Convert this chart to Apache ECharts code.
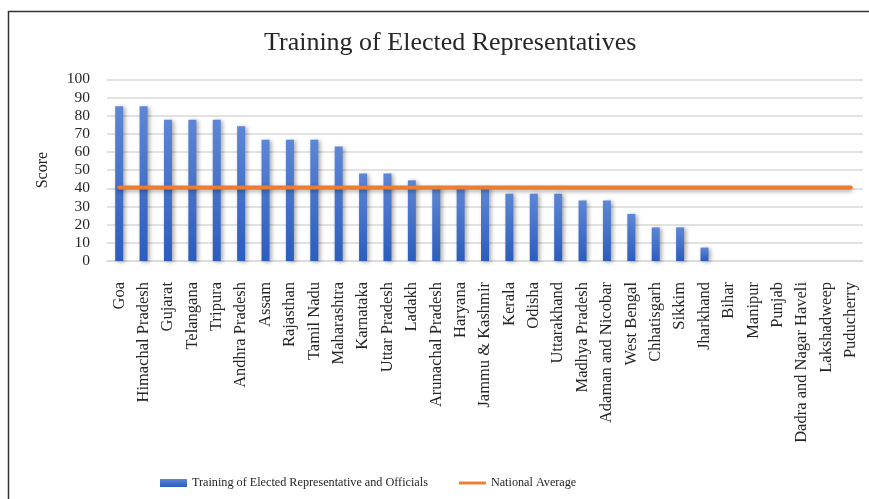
<!DOCTYPE html>
<html>
<head>
<meta charset="utf-8">
<script src="https://cdn.jsdelivr.net/npm/echarts@6/dist/echarts.min.js"></script>
<style>
  html, body { margin: 0; padding: 0; background: #fff; }
  #chart { width: 869px; height: 499px; }
</style>
</head>
<body>
<div id="chart"></div>
<script>
const states = ["Goa","Himachal Pradesh","Gujarat","Telangana","Tripura","Andhra Pradesh","Assam","Rajasthan","Tamil Nadu","Maharashtra","Karnataka","Uttar Pradesh","Ladakh","Arunachal Pradesh","Haryana","Jammu & Kashmir","Kerala","Odisha","Uttarakhand","Madhya Pradesh","Adaman and Nicobar","West Bengal","Chhatisgarh","Sikkim","Jharkhand","Bihar","Manipur","Punjab","Dadra and Nagar Haveli","Lakshadweep","Puducherry"];
const trainingScores = [85.2,85.2,77.8,77.8,77.8,74.1,66.7,66.7,66.7,63.0,48.1,48.1,44.4,40.7,40.7,40.7,37.0,37.0,37.0,33.3,33.3,25.9,18.5,18.5,7.4,0,0,0,0,0,0];
const nationalAverage = [40.4,40.4,40.4,40.4,40.4,40.4,40.4,40.4,40.4,40.4,40.4,40.4,40.4,40.4,40.4,40.4,40.4,40.4,40.4,40.4,40.4,40.4,40.4,40.4,40.4,40.4,40.4,40.4,40.4,40.4,40.4];
const yTicks = [0,10,20,30,40,50,60,70,80,90,100];

const serif = "'Liberation Serif', 'Times New Roman', serif";
const chart = echarts.init(document.getElementById('chart'), null, {renderer: 'canvas'});
chart.setOption({
  animation: false,
  backgroundColor: '#ffffff',
  textStyle: { fontFamily: serif, color: '#262626' },
  title: {
    text: 'Training of Elected Representatives',
    left: 259,
    top: 25,
    textStyle: { fontFamily: serif, fontSize: 26, fontWeight: 'normal', color: '#262626' }
  },
  graphic: [{
    type: 'rect',
    shape: { x: 8.5, y: 11.5, width: 1000, height: 800 },
    style: { fill: 'none', stroke: '#333333', lineWidth: 1.5 },
    silent: true, z: 100
  }],
  legend: {
    left: 155,
    top: 472,
    itemGap: 31,
    itemWidth: 27,
    itemHeight: 8,
    textStyle: { fontFamily: serif, fontSize: 12.2, color: '#262626' },
    data: [
      { name: 'Training of Elected Representative and Officials', icon: 'rect' },
      { name: 'National Average', icon: 'path://M0,0 L28,0 L28,3 L0,3 Z', itemStyle: { color: '#ed7d31' } }
    ]
  },
  grid: { left: 107, right: 6, top: 79.3, bottom: 238, containLabel: false },
  xAxis: {
    type: 'category',
    data: states,
    axisLine: { show: true, lineStyle: { color: '#d9d9d9', width: 1.5 } },
    axisTick: { show: false },
    axisLabel: {
      interval: 0, rotate: 90, margin: 21,
      fontFamily: serif, fontSize: 16.5, color: '#262626'
    }
  },
  yAxis: {
    type: 'value',
    min: 0, max: 100, interval: 10,
    name: 'Score',
    nameLocation: 'middle',
    nameGap: 56,
    nameRotate: 90,
    nameTextStyle: { fontFamily: serif, fontSize: 16, color: '#262626' },
    axisLine: { show: false },
    axisTick: { show: false },
    axisLabel: {
      margin: 17, fontFamily: serif, fontSize: 15.5, color: '#262626',
      formatter: function (v) { return yTicks.indexOf(v) >= 0 ? String(v) : ''; }
    },
    splitLine: { lineStyle: { color: '#d9d9d9', width: 1.5 } }
  },
  series: [
    {
      name: 'Training of Elected Representative and Officials',
      type: 'bar',
      data: trainingScores,
      barWidth: 8,
      itemStyle: {
        color: new echarts.graphic.LinearGradient(0, 0, 0, 1, [
          { offset: 0, color: '#5d86d6' },
          { offset: 1, color: '#2c5dbd' }
        ]),
        shadowColor: 'rgba(0,0,0,0.35)',
        shadowBlur: 4,
        shadowOffsetX: 2,
        shadowOffsetY: 1
      }
    },
    {
      name: 'National Average',
      type: 'line',
      data: nationalAverage,
      symbol: 'none',
      z: 5,
      lineStyle: {
        color: '#ed7d31', width: 4, cap: 'round',
        shadowColor: 'rgba(0,0,0,0.35)', shadowBlur: 4, shadowOffsetY: 2
      },
      itemStyle: { color: '#ed7d31' }
    }
  ]
});
</script>
</body>
</html>
